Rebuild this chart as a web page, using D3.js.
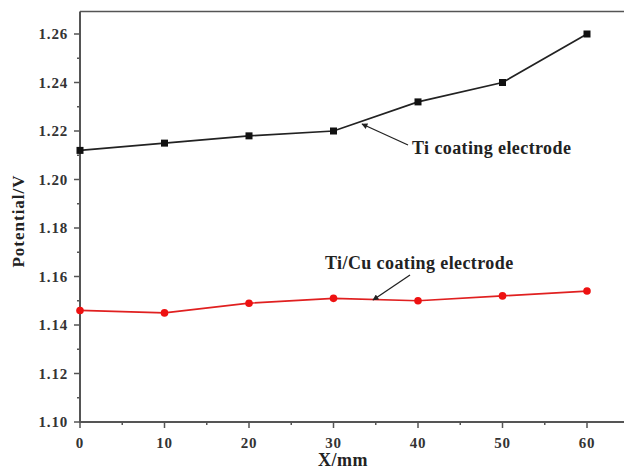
<!DOCTYPE html>
<html><head><meta charset="utf-8">
<script src="https://cdn.jsdelivr.net/npm/d3@7"></script>
<style>body{margin:0;background:#fff}svg{display:block}</style>
</head><body>
<script>
const xValues = [0, 10, 20, 30, 40, 50, 60];
const tiValues = [1.212, 1.215, 1.218, 1.220, 1.232, 1.240, 1.260];
const tiCuValues = [1.146, 1.145, 1.149, 1.151, 1.150, 1.152, 1.154];
const xTicks = [0, 10, 20, 30, 40, 50, 60];
const yTicks = [1.10, 1.12, 1.14, 1.16, 1.18, 1.20, 1.22, 1.24, 1.26];
const labels = {x: "X/mm", y: "Potential/V", ti: "Ti coating electrode", tiCu: "Ti/Cu coating electrode"};

const W = 624, H = 471;
const svg = d3.select("body").append("svg").attr("width", W).attr("height", H);
const x = d3.scaleLinear().domain([0, 60]).range([80, 587]);
const y = d3.scaleLinear().domain([1.10, 1.26]).range([422, 34]);
const font = "'Liberation Serif', 'Times New Roman', serif";
const axisColor = "#555";

// frame top
svg.append("line").attr("x1", x(0)).attr("x2", W + 5).attr("y1", y(1.2693)).attr("y2", y(1.2693))
  .attr("stroke", axisColor).attr("stroke-width", 1.6);

// y axis
const yAxis = svg.append("g").attr("transform", `translate(${x(0)},0)`);
yAxis.append("line").attr("x1", 0).attr("x2", 0).attr("y1", y(1.2693)).attr("y2", y(1.10) + 1)
  .attr("stroke", axisColor).attr("stroke-width", 2);
const yMinor = d3.range(1.11, 1.27, 0.02);
yAxis.selectAll(".ymin").data(yMinor).join("line")
  .attr("x1", -3).attr("x2", 0).attr("y1", d => y(d)).attr("y2", d => y(d))
  .attr("stroke", axisColor).attr("stroke-width", 1.5);
yAxis.selectAll(".ymaj").data(yTicks).join("line")
  .attr("x1", -6).attr("x2", 0).attr("y1", d => y(d)).attr("y2", d => y(d))
  .attr("stroke", axisColor).attr("stroke-width", 1.5);
yAxis.selectAll("text").data(yTicks).join("text")
  .attr("x", -12).attr("y", d => y(d)).attr("dy", "0.35em").attr("text-anchor", "end")
  .attr("font-family", font).attr("font-weight", "bold").attr("font-size", 15).attr("letter-spacing", 0.8).attr("fill", "#333")
  .text(d => d3.format(".2f")(d));

// x axis
const xAxis = svg.append("g").attr("transform", `translate(0,${y(1.10)})`);
xAxis.append("line").attr("x1", x(0) - 1).attr("x2", W + 5).attr("y1", 0).attr("y2", 0)
  .attr("stroke", axisColor).attr("stroke-width", 2);
const xMinor = d3.range(5, 65, 10);
xAxis.selectAll(".xmin").data(xMinor).join("line")
  .attr("x1", d => x(d)).attr("x2", d => x(d)).attr("y1", 0).attr("y2", 3)
  .attr("stroke", axisColor).attr("stroke-width", 1.5);
xAxis.selectAll(".xmaj").data(xTicks).join("line")
  .attr("x1", d => x(d)).attr("x2", d => x(d)).attr("y1", 0).attr("y2", 6)
  .attr("stroke", axisColor).attr("stroke-width", 1.5);
xAxis.selectAll("text").data(xTicks).join("text")
  .attr("x", d => x(d)).attr("y", 21).attr("dy", "0.35em").attr("text-anchor", "middle")
  .attr("font-family", font).attr("font-weight", "bold").attr("font-size", 15).attr("letter-spacing", 0.8).attr("fill", "#333")
  .text(d => d);

// axis titles
svg.append("text").attr("x", 343).attr("y", 466).attr("text-anchor", "middle")
  .attr("font-family", font).attr("font-weight", "bold").attr("font-size", 18).attr("letter-spacing", 0.5).attr("fill", "#222")
  .text(labels.x);
svg.append("text").attr("transform", `translate(24,221) rotate(-90)`).attr("text-anchor", "middle")
  .attr("font-family", font).attr("font-weight", "bold").attr("font-size", 17).attr("letter-spacing", 1).attr("fill", "#222")
  .text(labels.y);

// series
const line = d3.line().x(d => x(d[0])).y(d => y(d[1]));
const ti = xValues.map((v, i) => [v, tiValues[i]]);
const tiCu = xValues.map((v, i) => [v, tiCuValues[i]]);

svg.append("path").datum(ti).attr("d", line).attr("fill", "none").attr("stroke", "#222").attr("stroke-width", 1.7);
svg.selectAll(".sq").data(ti).join("rect")
  .attr("x", d => x(d[0]) - 3.5).attr("y", d => y(d[1]) - 3.5).attr("width", 7).attr("height", 7).attr("fill", "#111");

svg.append("path").datum(tiCu).attr("d", line).attr("fill", "none").attr("stroke", "#e02020").attr("stroke-width", 1.7);
svg.selectAll(".ci").data(tiCu).join("circle")
  .attr("cx", d => x(d[0])).attr("cy", d => y(d[1])).attr("r", 3.8).attr("fill", "#ee1111");

// annotations
const defs = svg.append("defs");
defs.append("marker").attr("id", "ah").attr("viewBox", "0 0 10 10").attr("refX", 9).attr("refY", 5)
  .attr("markerWidth", 7).attr("markerHeight", 6).attr("orient", "auto-start-reverse").attr("markerUnits", "userSpaceOnUse")
  .append("path").attr("d", "M0,0 L10,5 L0,10 z").attr("fill", "#222");

svg.append("line").attr("x1", 408).attr("y1", 145).attr("x2", 362).attr("y2", 124)
  .attr("stroke", "#222").attr("stroke-width", 1.3).attr("marker-end", "url(#ah)");
svg.append("text").attr("x", 412).attr("y", 154)
  .attr("font-family", font).attr("font-weight", "bold").attr("font-size", 18).attr("letter-spacing", 0.4).attr("fill", "#222")
  .text(labels.ti);

svg.append("line").attr("x1", 410).attr("y1", 275).attr("x2", 373).attr("y2", 300)
  .attr("stroke", "#222").attr("stroke-width", 1.3).attr("marker-end", "url(#ah)");
svg.append("text").attr("x", 325).attr("y", 269)
  .attr("font-family", font).attr("font-weight", "bold").attr("font-size", 18).attr("letter-spacing", 0.4).attr("fill", "#222")
  .text(labels.tiCu);
</script>
</body></html>
